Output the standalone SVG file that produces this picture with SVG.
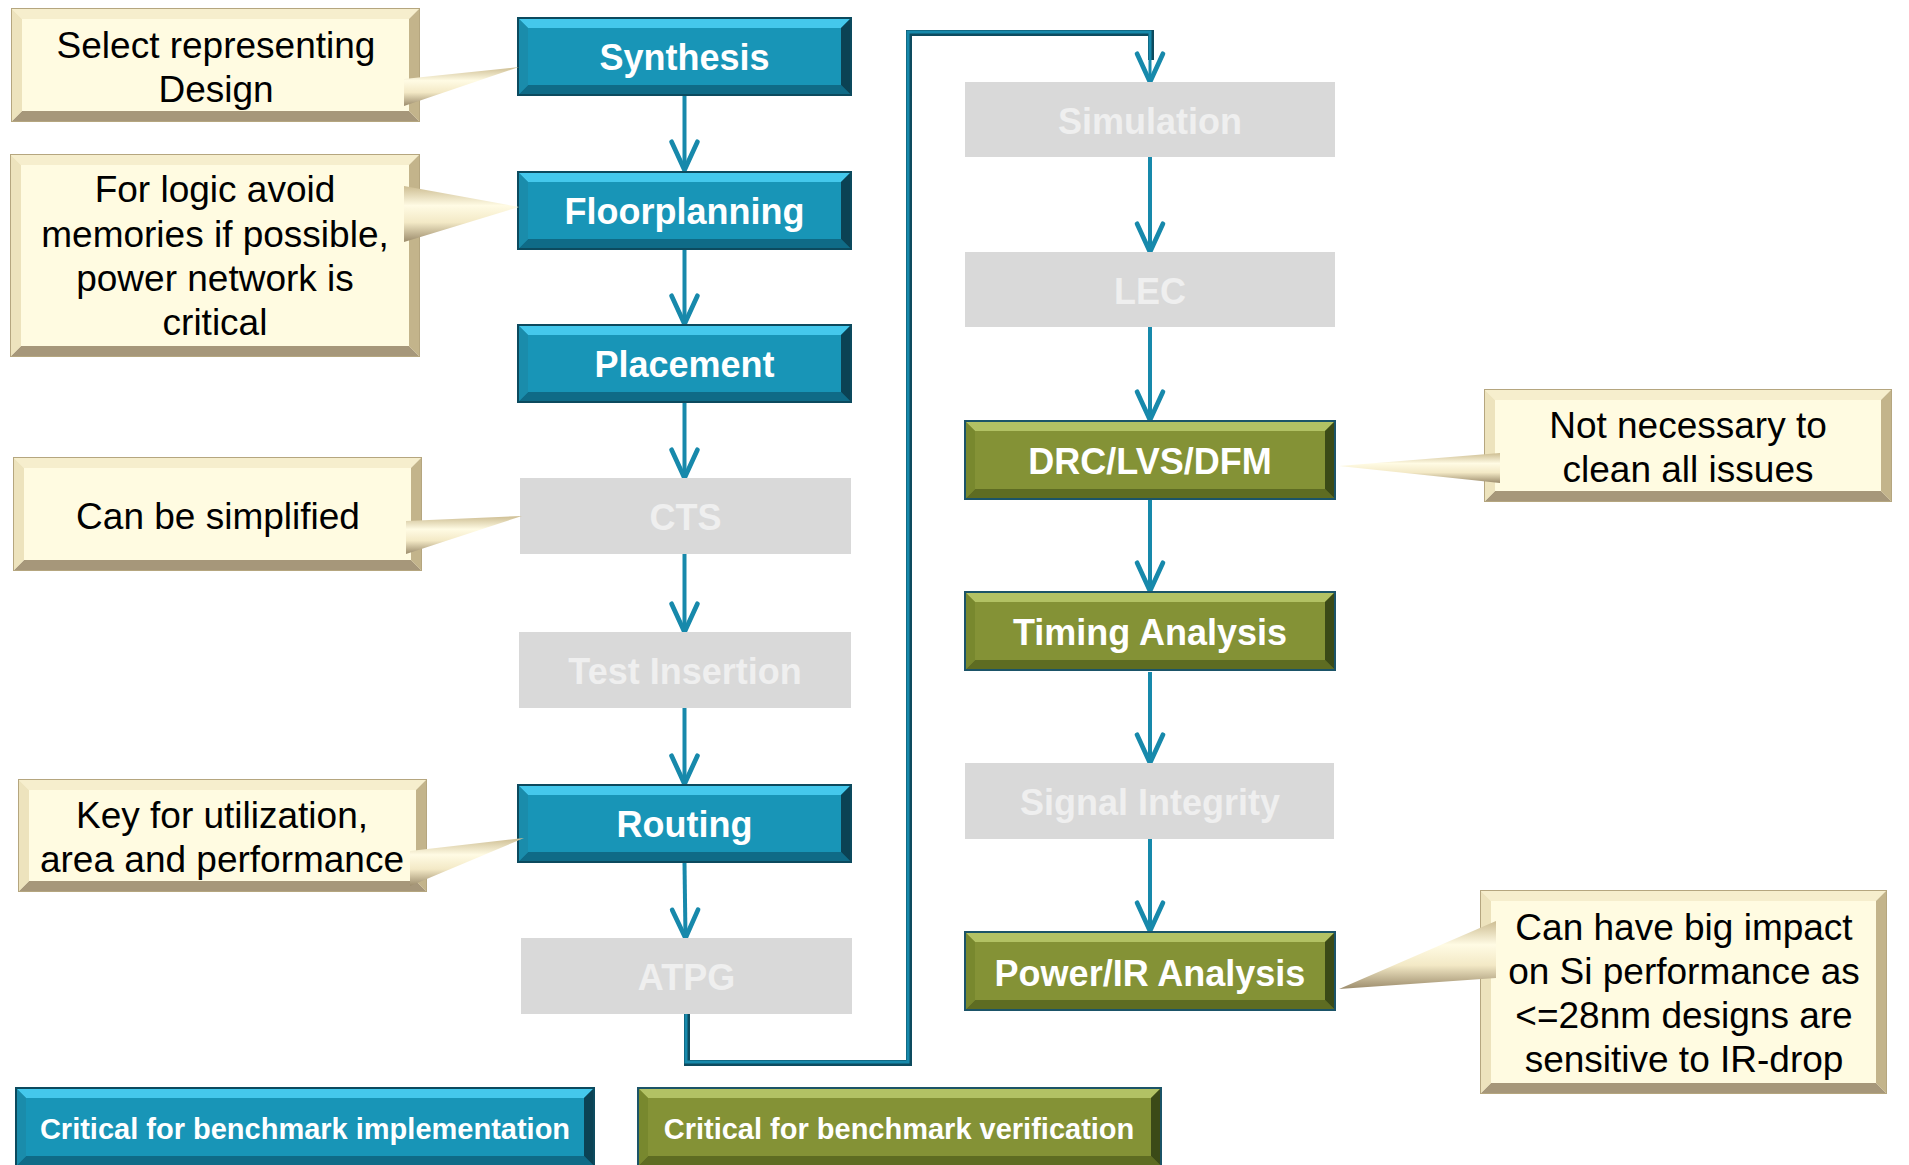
<svg xmlns="http://www.w3.org/2000/svg" xmlns:xlink="http://www.w3.org/1999/xlink" width="1909" height="1165" viewBox="0 0 1909 1165">
  <style>
    .nodetxt { font-family: "Liberation Sans", Arial, sans-serif; font-weight: bold; font-size: 36px; fill: #ffffff; text-anchor: middle; }
    .greytxt { font-family: "Liberation Sans", Arial, sans-serif; font-weight: bold; font-size: 36px; fill: #efefef; text-anchor: middle; }
    .legtxt { font-family: "Liberation Sans", Arial, sans-serif; font-weight: bold; font-size: 29px; fill: #ffffff; text-anchor: middle; }
    .calltxt { font-family: "Liberation Sans", Arial, sans-serif; font-size: 37px; fill: #000000; text-anchor: middle; }
    .grey { fill: #d9d9d9; }
    .wire { fill: none; stroke: #1789ab; stroke-width: 4; }
    .loop-shadow { fill: none; stroke: #0d4b5f; stroke-width: 6; }
    .loop { fill: none; stroke: #1789ab; stroke-width: 3; }
    .b-border { fill: #0c4a5e; } .b-base { fill: #1895b7; } .b-top { fill: #44c8ec; }
    .b-left { fill: #1a8cab; } .b-right { fill: #0b4254; } .b-bot { fill: #0f6b87; }
    .g-border { fill: #1b5468; } .g-base { fill: #849236; } .g-top { fill: #b2c264; }
    .g-left { fill: #78882e; } .g-right { fill: #3b4a17; } .g-bot { fill: #5e6c22; }
    .c-border { fill: #b5a67f; } .c-base { fill: #fffbe1; } .c-top { fill: #f6eecd; }
    .c-left { fill: #ede3bd; } .c-right { fill: #c3b48b; } .c-bot { fill: #a6977a; }
  </style>
  <defs>
    <marker id="arrow" markerUnits="userSpaceOnUse" markerWidth="40" markerHeight="40" refX="0" refY="0" viewBox="-30 -15 34 30" orient="auto">
      <path d="M-24,-11 L0,0 L-24,11" fill="none" stroke="#1789ab" stroke-width="4" stroke-linejoin="round" stroke-linecap="round"/>
    </marker>
    <linearGradient id="tail" x1="0" y1="0" x2="0" y2="1">
      <stop offset="0" stop-color="#cdbd92"/>
      <stop offset="0.35" stop-color="#fffbe4"/>
      <stop offset="0.65" stop-color="#f3e9c6"/>
      <stop offset="1" stop-color="#9c8c6c"/>
    </linearGradient>
    <!-- bevelled step box, 335 x 79 -->
    <g id="blueStep">
      <rect class="b-border" x="0" y="0" width="335" height="79"/>
      <rect class="b-base" x="2" y="2" width="331" height="75"/>
      <polygon class="b-top" points="2,2 333,2 324,11 11,11"/>
      <polygon class="b-bot" points="2,77 333,77 324,68 11,68"/>
      <polygon class="b-left" points="2,2 11,11 11,68 2,77"/>
      <polygon class="b-right" points="333,2 324,11 324,68 333,77"/>
    </g>
    <!-- bevelled check box, 372 x 80 -->
    <g id="greenStep">
      <rect class="g-border" x="0" y="0" width="372" height="80"/>
      <rect class="g-base" x="2" y="2" width="368" height="76"/>
      <polygon class="g-top" points="2,2 370,2 361,11 11,11"/>
      <polygon class="g-bot" points="2,78 370,78 361,69 11,69"/>
      <polygon class="g-left" points="2,2 11,11 11,69 2,78"/>
      <polygon class="g-right" points="370,2 361,11 361,69 370,78"/>
    </g>
  </defs>

  <rect x="0" y="0" width="1909" height="1165" fill="#ffffff"/>

  <!-- flow connectors -->
  <g id="connectors">
    <line class="wire" x1="684.5" y1="95" x2="684.5" y2="170" marker-end="url(#arrow)"/>
    <line class="wire" x1="684.5" y1="250" x2="684.5" y2="324" marker-end="url(#arrow)"/>
    <line class="wire" x1="684.5" y1="403" x2="684.5" y2="478" marker-end="url(#arrow)"/>
    <line class="wire" x1="684.5" y1="554" x2="684.5" y2="632" marker-end="url(#arrow)"/>
    <line class="wire" x1="684.5" y1="708" x2="684.5" y2="784" marker-end="url(#arrow)"/>
    <line class="wire" x1="684.5" y1="863" x2="685.5" y2="938" marker-end="url(#arrow)"/>
    <path class="loop-shadow" d="M687,1014 V1063 H909 V33 H1151 V60"/>
    <path class="loop" d="M686,1014 V1062 H908 V32 H1150 V82" marker-end="url(#arrow)"/>
    <line class="wire" x1="1150" y1="157" x2="1150" y2="252" marker-end="url(#arrow)"/>
    <line class="wire" x1="1150" y1="327" x2="1150" y2="420" marker-end="url(#arrow)"/>
    <line class="wire" x1="1150" y1="500" x2="1150" y2="591" marker-end="url(#arrow)"/>
    <line class="wire" x1="1150" y1="672" x2="1150" y2="763" marker-end="url(#arrow)"/>
    <line class="wire" x1="1150" y1="839" x2="1150" y2="931" marker-end="url(#arrow)"/>
  </g>

  <!-- implementation column -->
  <g id="synthesis">
    <use href="#blueStep" x="517" y="17"/>
    <text class="nodetxt" x="684.5" y="70">Synthesis</text>
  </g>
  <g id="floorplanning">
    <use href="#blueStep" x="517" y="171"/>
    <text class="nodetxt" x="684.5" y="224">Floorplanning</text>
  </g>
  <g id="placement">
    <use href="#blueStep" x="517" y="324"/>
    <text class="nodetxt" x="684.5" y="377">Placement</text>
  </g>
  <g id="cts">
    <rect class="grey" x="520" y="478" width="331" height="76"/>
    <text class="greytxt" x="685.5" y="530">CTS</text>
  </g>
  <g id="test-insertion">
    <rect class="grey" x="519" y="632" width="332" height="76"/>
    <text class="greytxt" x="685" y="684">Test Insertion</text>
  </g>
  <g id="routing">
    <use href="#blueStep" x="517" y="784"/>
    <text class="nodetxt" x="684.5" y="837">Routing</text>
  </g>
  <g id="atpg">
    <rect class="grey" x="521" y="938" width="331" height="76"/>
    <text class="greytxt" x="686.5" y="990">ATPG</text>
  </g>

  <!-- verification column -->
  <g id="simulation">
    <rect class="grey" x="965" y="82" width="370" height="75"/>
    <text class="greytxt" x="1150" y="134">Simulation</text>
  </g>
  <g id="lec">
    <rect class="grey" x="965" y="252" width="370" height="75"/>
    <text class="greytxt" x="1150" y="304">LEC</text>
  </g>
  <g id="drc-lvs-dfm">
    <use href="#greenStep" x="964" y="420"/>
    <text class="nodetxt" x="1150" y="474">DRC/LVS/DFM</text>
  </g>
  <g id="timing-analysis">
    <use href="#greenStep" x="964" y="591"/>
    <text class="nodetxt" x="1150" y="645">Timing Analysis</text>
  </g>
  <g id="signal-integrity">
    <rect class="grey" x="965" y="763" width="369" height="76"/>
    <text class="greytxt" x="1150" y="815">Signal Integrity</text>
  </g>
  <g id="power-ir-analysis">
    <use href="#greenStep" x="964" y="931"/>
    <text class="nodetxt" x="1150" y="986">Power/IR Analysis</text>
  </g>

  <!-- callout notes -->
  <g id="note-synthesis">
    <rect class="c-border" x="11" y="8" width="409" height="114"/>
    <rect class="c-base" x="12" y="9" width="407" height="112"/>
    <polygon class="c-top" points="12,9 419,9 409,19 22,19"/>
    <polygon class="c-bot" points="12,121 419,121 409,111 22,111"/>
    <polygon class="c-left" points="12,9 22,19 22,111 12,121"/>
    <polygon class="c-right" points="419,9 409,19 409,111 419,121"/>
    <polygon fill="url(#tail)" points="404,79 519,67 404,106"/>
    <text class="calltxt" x="216" y="58">Select representing</text>
    <text class="calltxt" x="216" y="102">Design</text>
  </g>
  <g id="note-floorplanning">
    <rect class="c-border" x="10" y="154" width="410" height="203"/>
    <rect class="c-base" x="11" y="155" width="408" height="201"/>
    <polygon class="c-top" points="11,155 419,155 409,165 21,165"/>
    <polygon class="c-bot" points="11,356 419,356 409,346 21,346"/>
    <polygon class="c-left" points="11,155 21,165 21,346 11,356"/>
    <polygon class="c-right" points="419,155 409,165 409,346 419,356"/>
    <polygon fill="url(#tail)" points="404,186 519,207 404,242"/>
    <text class="calltxt" x="215" y="202">For logic avoid</text>
    <text class="calltxt" x="215" y="247">memories if possible,</text>
    <text class="calltxt" x="215" y="291">power network is</text>
    <text class="calltxt" x="215" y="335">critical</text>
  </g>
  <g id="note-cts">
    <rect class="c-border" x="13" y="457" width="409" height="114"/>
    <rect class="c-base" x="14" y="458" width="407" height="112"/>
    <polygon class="c-top" points="14,458 421,458 411,468 24,468"/>
    <polygon class="c-bot" points="14,570 421,570 411,560 24,560"/>
    <polygon class="c-left" points="14,458 24,468 24,560 14,570"/>
    <polygon class="c-right" points="421,458 411,468 411,560 421,570"/>
    <polygon fill="url(#tail)" points="406,521 522,516 406,554"/>
    <text class="calltxt" x="218" y="529">Can be simplified</text>
  </g>
  <g id="note-routing">
    <rect class="c-border" x="18" y="779" width="409" height="113"/>
    <rect class="c-base" x="19" y="780" width="407" height="111"/>
    <polygon class="c-top" points="19,780 426,780 416,790 29,790"/>
    <polygon class="c-bot" points="19,891 426,891 416,881 29,881"/>
    <polygon class="c-left" points="19,780 29,790 29,881 19,891"/>
    <polygon class="c-right" points="426,780 416,790 416,881 426,891"/>
    <polygon fill="url(#tail)" points="410,851 524,838 410,886"/>
    <text class="calltxt" x="222" y="828">Key for utilization,</text>
    <text class="calltxt" x="222" y="872">area and performance</text>
  </g>
  <g id="note-drc">
    <rect class="c-border" x="1484" y="389" width="408" height="113"/>
    <rect class="c-base" x="1485" y="390" width="406" height="111"/>
    <polygon class="c-top" points="1485,390 1891,390 1881,400 1495,400"/>
    <polygon class="c-bot" points="1485,501 1891,501 1881,491 1495,491"/>
    <polygon class="c-left" points="1485,390 1495,400 1495,491 1485,501"/>
    <polygon class="c-right" points="1891,390 1881,400 1881,491 1891,501"/>
    <polygon fill="url(#tail)" points="1500,453 1339,466 1500,483"/>
    <text class="calltxt" x="1688" y="438">Not necessary to</text>
    <text class="calltxt" x="1688" y="482">clean all issues</text>
  </g>
  <g id="note-power">
    <rect class="c-border" x="1480" y="890" width="407" height="204"/>
    <rect class="c-base" x="1481" y="891" width="405" height="202"/>
    <polygon class="c-top" points="1481,891 1886,891 1876,901 1491,901"/>
    <polygon class="c-bot" points="1481,1093 1886,1093 1876,1083 1491,1083"/>
    <polygon class="c-left" points="1481,891 1491,901 1491,1083 1481,1093"/>
    <polygon class="c-right" points="1886,891 1876,901 1876,1083 1886,1093"/>
    <polygon fill="url(#tail)" points="1496,921 1339,989 1496,978"/>
    <text class="calltxt" x="1684" y="940">Can have big impact</text>
    <text class="calltxt" x="1684" y="984">on Si performance as</text>
    <text class="calltxt" x="1684" y="1028">&lt;=28nm designs are</text>
    <text class="calltxt" x="1684" y="1072">sensitive to IR-drop</text>
  </g>

  <!-- legend -->
  <g id="legend-implementation">
    <rect class="b-border" x="15" y="1087" width="580" height="80"/>
    <rect class="b-base" x="17" y="1089" width="576" height="76"/>
    <polygon class="b-top" points="17,1089 593,1089 584,1098 26,1098"/>
    <polygon class="b-bot" points="17,1165 593,1165 584,1156 26,1156"/>
    <polygon class="b-left" points="17,1089 26,1098 26,1156 17,1165"/>
    <polygon class="b-right" points="593,1089 584,1098 584,1156 593,1165"/>
    <text class="legtxt" x="305" y="1139">Critical for benchmark implementation</text>
  </g>
  <g id="legend-verification">
    <rect class="g-border" x="637" y="1087" width="525" height="80"/>
    <rect class="g-base" x="639" y="1089" width="521" height="76"/>
    <polygon class="g-top" points="639,1089 1160,1089 1151,1098 648,1098"/>
    <polygon class="g-bot" points="639,1165 1160,1165 1151,1156 648,1156"/>
    <polygon class="g-left" points="639,1089 648,1098 648,1156 639,1165"/>
    <polygon class="g-right" points="1160,1089 1151,1098 1151,1156 1160,1165"/>
    <text class="legtxt" x="899" y="1139">Critical for benchmark verification</text>
  </g>
</svg>
